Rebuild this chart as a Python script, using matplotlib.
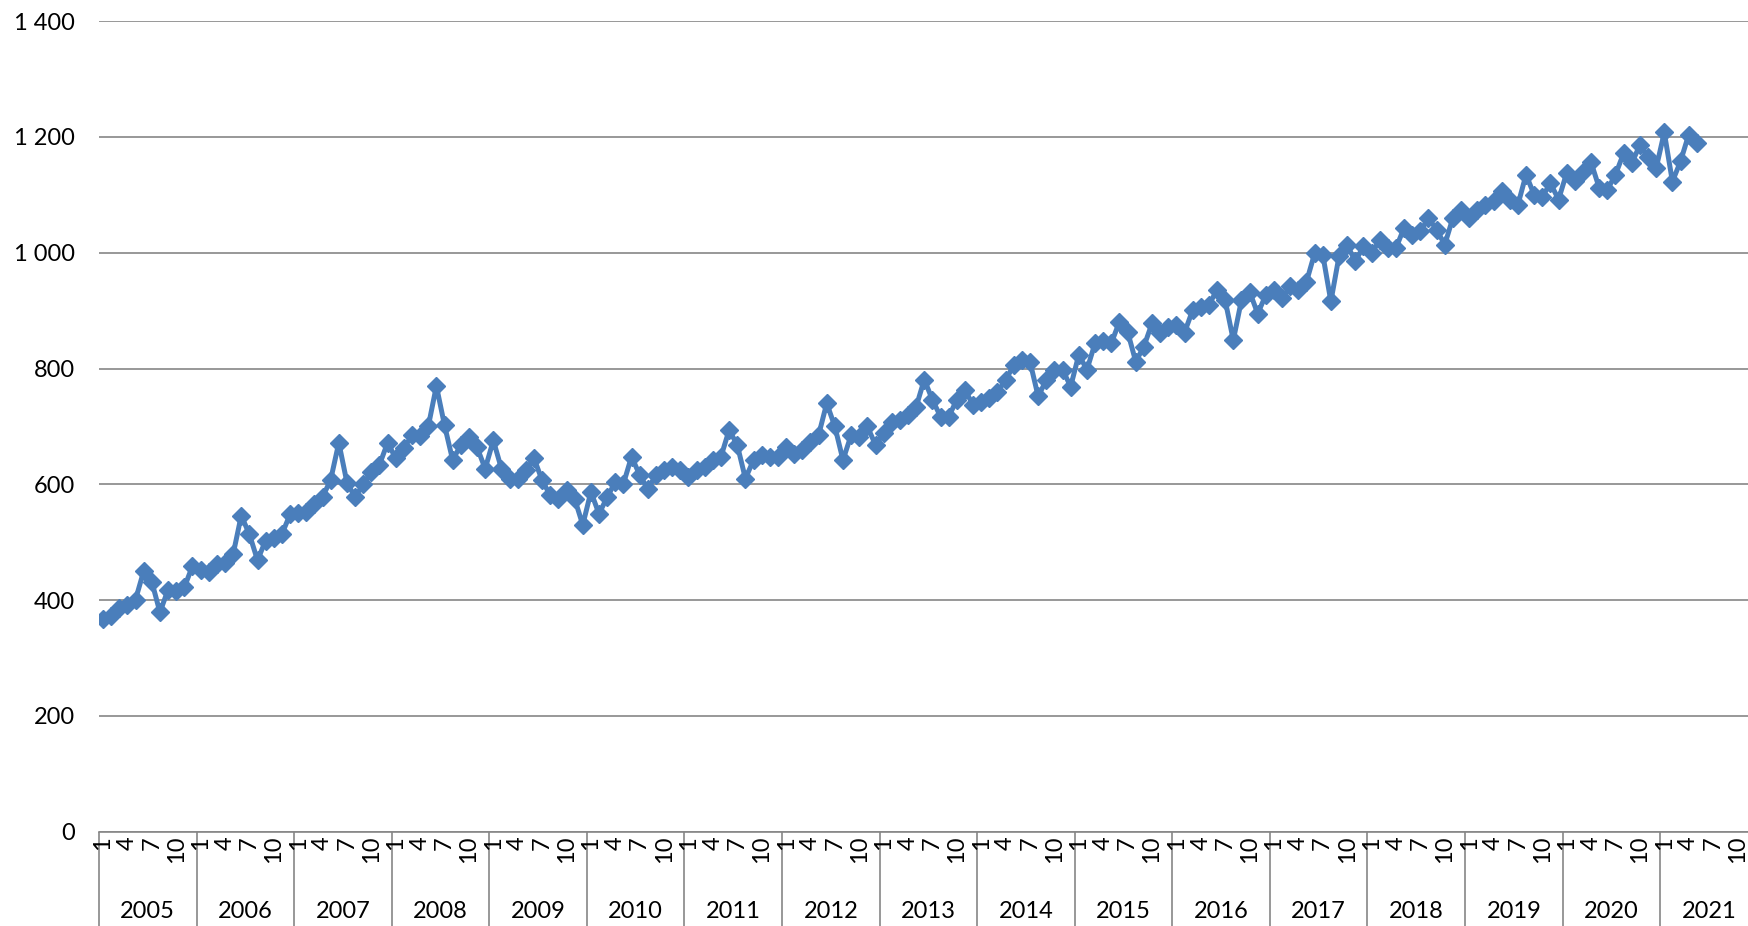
import matplotlib
matplotlib.use('Agg')
import matplotlib.pyplot as plt
from matplotlib.ticker import FuncFormatter
from matplotlib.transforms import blended_transform_factory

# Monthly series, January 2005 to May 2021
years = list(range(2005, 2022))
month_labels = [1, 4, 7, 10]
values = [
    367, 372, 386, 392, 401, 450, 432, 379, 418, 416, 422, 459,    # 2005
    452, 449, 462, 465, 479, 546, 514, 469, 503, 507, 514, 548,    # 2006
    550, 552, 566, 578, 608, 672, 603, 578, 600, 622, 634, 672,    # 2007
    645, 662, 685, 684, 700, 770, 702, 642, 668, 682, 664, 627,    # 2008
    676, 627, 610, 610, 624, 645, 607, 581, 575, 590, 575, 530,    # 2009
    587, 549, 578, 604, 601, 648, 616, 592, 616, 624, 630, 624,    # 2010
    612, 624, 630, 642, 648, 694, 668, 610, 642, 650, 648, 648,    # 2011
    665, 653, 659, 674, 685, 740, 700, 642, 685, 682, 700, 668,    # 2012
    688, 708, 711, 720, 734, 781, 746, 717, 717, 746, 763, 737,    # 2013
    743, 749, 760, 780, 806, 815, 812, 752, 780, 798, 798, 769,    # 2014
    824, 798, 844, 847, 844, 881, 864, 812, 838, 878, 861, 872,    # 2015
    875, 862, 901, 907, 910, 936, 918, 849, 918, 933, 895, 927,    # 2016
    936, 922, 942, 936, 950, 999, 997, 916, 994, 1014, 985, 1011,  # 2017
    999, 1022, 1008, 1008, 1043, 1031, 1037, 1060, 1040, 1014, 1060, 1074,  # 2018
    1060, 1074, 1083, 1089, 1106, 1092, 1083, 1135, 1100, 1097, 1120, 1092,  # 2019
    1138, 1124, 1139, 1156, 1112, 1109, 1135, 1172, 1155, 1186, 1165, 1146,  # 2020
    1208, 1123, 1158, 1204, 1190,                                  # 2021
]
yticks = [0, 200, 400, 600, 800, 1000, 1200, 1400]

plt.rcParams['font.family'] = ['Lato', 'DejaVu Sans']

BLUE = '#4A7EBB'
GREY = '#868686'

fig = plt.figure(figsize=(17.48, 9.26), dpi=100)
ax = fig.add_axes([0.0566, 0.1018, 0.949, 0.8753])

x = [i + 0.5 for i in range(len(values))]
ax.plot(x, values, color=BLUE, lw=3.6, marker='D', ms=9.5, mec=BLUE, mew=1,
        zorder=3)

n_months = 12 * len(years)
ax.set_xlim(0, n_months)
ax.set_ylim(0, 1400)

# y axis: space as thousands separator
ax.set_yticks(yticks)
ax.yaxis.set_major_formatter(
    FuncFormatter(lambda v, p: f'{int(v):,}'.replace(',', ' ')))
ax.tick_params(axis='y', length=0, pad=17, labelsize=17)
ax.grid(axis='y', color=GREY, lw=1.2)
ax.set_axisbelow(True)

for side in ['top', 'right', 'left']:
    ax.spines[side].set_visible(False)
ax.spines['bottom'].set_color(GREY)
ax.spines['bottom'].set_linewidth(1.2)

# year separators drawn as long major ticks
ax.set_xticks(range(0, n_months + 1, 12))
ax.set_xticklabels([])
ax.tick_params(axis='x', which='major', length=80, width=1.2,
               color=GREY, direction='out')

# month labels on minor ticks
minor_pos = [12 * i + m - 0.5 for i in range(len(years)) for m in month_labels]
minor_lab = [str(m) for _ in years for m in month_labels]
ax.set_xticks(minor_pos, minor=True)
ax.set_xticklabels(minor_lab, minor=True, rotation=90)
ax.tick_params(axis='x', which='minor', length=0, pad=3, labelsize=17)

trans = blended_transform_factory(ax.transData, ax.transAxes)
for i, yr in enumerate(years):
    ax.text(12 * i + 6, -0.099, str(yr), transform=trans,
            ha='center', va='center', fontsize=17)

fig.savefig('out.png', dpi=100)
